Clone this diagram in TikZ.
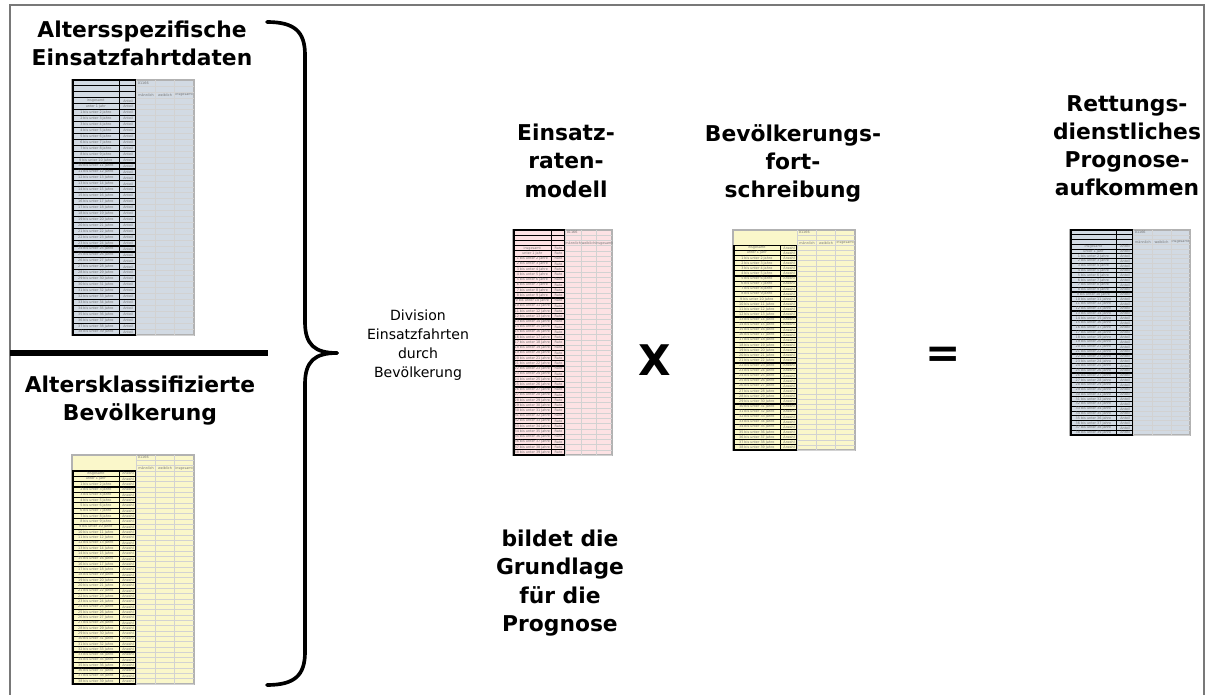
\documentclass[tikz,border=0pt]{standalone}
\usepackage{fontspec}
\setmainfont{DejaVu Sans}
\usetikzlibrary{fit}

\definecolor{sheetblue}{RGB}{210,218,227}
\definecolor{sheetyellow}{RGB}{250,247,202}
\definecolor{sheetpink}{RGB}{253,226,228}
\definecolor{framegray}{RGB}{120,120,120}

% name, left, top, right, bottom, fill, type, boxed header (1/0)
\newcommand{\datasheet}[8]{%
  \node[sheet, fill=#6, fit={(#2,#3) (#4,#5)}] (#1) {};
  \pgfmathsetmacro{\rh}{(#5-#3)/43}
  \pgfmathsetmacro{\ca}{#2+0.39*(#4-#2)}
  \pgfmathsetmacro{\cb}{#2+0.53*(#4-#2)}
  \pgfmathsetmacro{\cc}{#2+0.685*(#4-#2)}
  \pgfmathsetmacro{\cd}{#2+0.84*(#4-#2)}
  \draw[sheetgrid] (\cb,#3) -- (\cb,#5) (\cc,#3) -- (\cc,#5) (\cd,#3) -- (\cd,#5);
  \node[celltext, anchor=west] (#1-h1) at (\cb+1,#3+0.5*\rh) {01166};
  \node[celltext] (#1-h2) at ({(\cb+\cc)/2},#3+2.5*\rh) {männlich};
  \node[celltext] (#1-h3) at ({(\cc+\cd)/2},#3+2.5*\rh) {weiblich};
  \node[celltext] (#1-h4) at ({(\cd+#4)/2},#3+2.5*\rh) {insgesamt};
  \foreach \i in {1,...,43}{
    \pgfmathsetmacro{\ya}{#3+(\i-1)*\rh}
    \pgfmathsetmacro{\yb}{#3+\i*\rh}
    \pgfmathsetmacro{\ym}{#3+(\i-0.5)*\rh}
    \draw[sheetgrid] (\cb,\yb) -- (#4,\yb);
    \ifnum\i>3 \def\hasbox{1}\else\def\hasbox{#8}\fi
    \ifnum\hasbox=1
      \draw[cellbox] (#2+1,\ya) rectangle (\ca,\yb) (\ca,\ya) rectangle (\cb-1,\yb);
    \fi
    \ifnum\i=4 \node[celltext] (#1-l\i) at ({(#2+\ca)/2},\ym) {insgesamt};\fi
    \ifnum\i=5 \node[celltext] (#1-l\i) at ({(#2+\ca)/2},\ym) {unter 1 Jahr};\fi
    \ifnum\i>5
      \pgfmathtruncatemacro{\ka}{\i-5}\pgfmathtruncatemacro{\kb}{\i-4}
      \node[celltext] (#1-l\i) at ({(#2+\ca)/2},\ym) {\ka{} bis unter \kb{} Jahre};
    \fi
    \ifnum\i>3 \node[celltext] (#1-t\i) at ({(\ca+\cb)/2},\ym) {#7};\fi
  }%
}

\begin{document}
\begin{tikzpicture}[
  x=0.025cm, y=-0.025cm,
  title/.style={font=\bfseries\fontsize{15.5}{20}\selectfont, align=center, anchor=north, inner sep=0pt},
  note/.style={font=\fontsize{10}{13.5}\selectfont, align=center, anchor=north, inner sep=0pt},
  op/.style={font=\bfseries\fontsize{30}{30}\selectfont, inner sep=0pt},
  sheet/.style={draw=gray!60, line width=0.8pt, inner sep=0pt},
  cellbox/.style={draw=black, line width=0.8pt},
  sheetgrid/.style={draw=gray!35, line width=0.3pt},
  celltext/.style={font=\fontsize{2.4}{2.8}\selectfont, text=black!55, inner sep=0pt},
  brace/.style={line width=2.6pt, line cap=round}
]
\useasboundingbox (0,0) rectangle (1209,695);
\draw[framegray, line width=1pt] (10,695) -- (10,5) -- (1204,5) -- (1204,695);

\node[title] (spez) at (142,21) {Altersspezifische\\Einsatzfahrtdaten};
\datasheet{einsatz}{72}{80}{194}{335}{sheetblue}{Anteil}{1}

\draw[line width=3.6pt] (10,353) -- (268,353);

\node[title] (klass) at (140,376) {Altersklassifizierte\\Bevölkerung};
\datasheet{bev}{72}{455}{194}{684}{sheetyellow}{Anzahl}{0}

\draw[brace] (267,22) .. controls (295,22) and (305,32) .. (305,55) -- (305,322)
  .. controls (305,345) and (315,353) .. (337,353);
\draw[brace] (337,353) .. controls (315,353) and (305,361) .. (305,384) -- (305,652)
  .. controls (305,675) and (295,685) .. (267,685);

\node[note] (div) at (418,310) {Division\\Einsatzfahrten\\durch\\Bevölkerung};

\node[title] (rate) at (566,124) {Einsatz-\\raten-\\modell};
\datasheet{raten}{513}{230}{612}{455}{sheetpink}{Rate}{1}
\node[title] (basis) at (560,530) {bildet die\\Grundlage\\für die\\Prognose};

\node[op] (mal) at (655,360) {X};

\node[title] (fort) at (793,124) {Bevölkerungs-\\fort-\\schreibung};
\datasheet{bevfort}{733}{230}{855}{450}{sheetyellow}{Anzahl}{0}

\node[op] (gleich) at (943,357) {=};

\node[title] (prog) at (1127,95) {Rettungs-\\dienstliches\\Prognose-\\aufkommen};
\datasheet{prognose}{1070}{230}{1190}{435}{sheetblue}{Anteil}{1}
\end{tikzpicture}
\end{document}
